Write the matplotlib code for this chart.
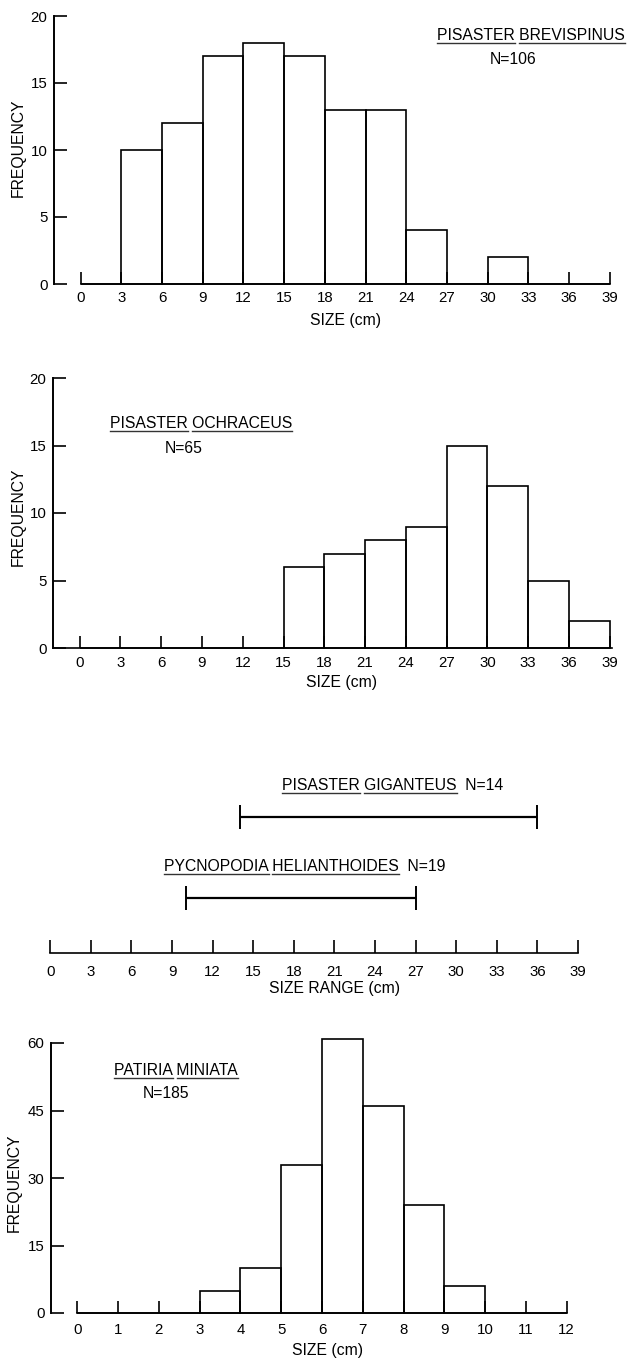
import numpy as np
import matplotlib.pyplot as plt
from matplotlib.lines import Line2D
from matplotlib.transforms import IdentityTransform

plt.rcParams['font.family'] = ['Liberation Sans', 'DejaVu Sans']
plt.rcParams['font.size'] = 11

W, H = 631, 1359
FS = 11.3      # label text
TFS = 10.8     # tick labels

# size classes (cm) and counts
size_edges = [0, 3, 6, 9, 12, 15, 18, 21, 24, 27, 30, 33, 36, 39]
brevispinus_counts = [0, 10, 12, 17, 18, 17, 13, 13, 4, 0, 2, 0, 0]
ochraceus_counts = [0, 0, 0, 0, 0, 6, 7, 8, 9, 15, 12, 5, 2]

range_names = [['PYCNOPODIA', 'HELIANTHOIDES'], ['PISASTER', 'GIGANTEUS']]
range_n = [19, 14]
range_lo = [10, 14]
range_hi = [27, 36]

patiria_edges = [0, 1, 2, 3, 4, 5, 6, 7, 8, 9, 10, 11, 12]
patiria_counts = [0, 0, 0, 5, 10, 33, 61, 46, 24, 6, 0, 0]

fig = plt.figure(figsize=(W / 100, H / 100), dpi=100)
ident = IdentityTransform()


def axes_px(left, right, top, bottom):
    return fig.add_axes([left / W, 1 - bottom / H, (right - left) / W, (bottom - top) / H])


def hist_panel(ax, edges, counts, xlim, ylim, yticks, xpad, xbounds):
    widths = np.diff(edges)
    ax.bar(edges[:-1], counts, width=widths, align='edge', fill=False,
           edgecolor='black', linewidth=1.2, clip_on=False)
    ax.set_xlim(*xlim)
    ax.set_ylim(*ylim)
    ax.set_xticks(edges)
    ax.set_yticks(yticks)
    for s in ['top', 'right']:
        ax.spines[s].set_visible(False)
    ax.spines['left'].set_linewidth(1.4)
    ax.spines['bottom'].set_linewidth(1.2)
    ax.spines['left'].set_bounds(ylim[0], ylim[1])
    if xbounds is not None:
        ax.spines['bottom'].set_bounds(*xbounds)
    ax.tick_params(axis='x', direction='in', length=9, width=1.2, pad=xpad, labelsize=TFS)
    ax.tick_params(axis='y', direction='in', length=9, width=1.2, pad=4.3, labelsize=TFS)


def label(x, y, s, **kw):
    fig.text(x / W, 1 - y / H, s, ha='center', va='center', fontsize=FS, **kw)


def underlined(x, y, words, extra='', ha='center'):
    # x, y in image pixels (y from top), y is the text baseline
    full = ' '.join(words) + extra
    t = fig.text(x / W, 1 - y / H, full, ha=ha, va='baseline', fontsize=FS)
    fig.canvas.draw()
    r = fig.canvas.get_renderer()
    bb = t.get_window_extent(r)
    for i, w in enumerate(words):
        pre = ' '.join(words[:i]) + (' ' if i else '')
        x0 = 0
        if pre:
            tmp = fig.text(0, 0, pre, fontsize=FS)
            x0 = tmp.get_window_extent(r).width
            tmp.remove()
        tmp = fig.text(0, 0, pre + w, fontsize=FS)
        x1 = tmp.get_window_extent(r).width
        tmp.remove()
        yy = H - y - 3
        fig.add_artist(Line2D([bb.x0 + x0, bb.x0 + x1], [yy, yy], transform=ident,
                              color='#333333', lw=1.0))


# panel 1: Pisaster brevispinus
ax1 = axes_px(53.5, 612.4, 16, 284)
hist_panel(ax1, size_edges, brevispinus_counts, (-2, 39.2), (0, 20), [0, 5, 10, 15, 20], 5, (0, 39))
label(18, 148, 'FREQUENCY', rotation=90)
label(346, 320, 'SIZE (cm)')
underlined(531, 40, ['PISASTER', 'BREVISPINUS'])
fig.text(513 / W, 1 - 64 / H, 'N=106', ha='center', va='baseline', fontsize=FS)

# panel 2: Pisaster ochraceus
ax2 = axes_px(52.5, 612.4, 378, 648)
hist_panel(ax2, size_edges, ochraceus_counts, (-2, 39.2), (0, 20), [0, 5, 10, 15, 20], 5.5, None)
label(18, 517, 'FREQUENCY', rotation=90)
label(342, 683, 'SIZE (cm)')
underlined(201, 428, ['PISASTER', 'OCHRACEUS'])
fig.text(184 / W, 1 - 453 / H, 'N=65', ha='center', va='baseline', fontsize=FS)

# panel 3: size ranges
ax3 = axes_px(43.5, 584.8, 760.2, 953)
rows = np.arange(len(range_lo))
for r, lo, hi in zip(rows, range_lo, range_hi):
    ax3.plot([lo, hi], [r, r], color='black', lw=1.6, marker='|', ms=17, mew=1.4,
             solid_capstyle='butt')
ax3.set_xlim(-0.5, 39.5)
ax3.set_ylim(-0.68, 1.7)
ax3.set_yticks([])
ax3.set_xticks(size_edges)
for s in ['top', 'right', 'left']:
    ax3.spines[s].set_visible(False)
ax3.spines['bottom'].set_bounds(0, 39)
ax3.spines['bottom'].set_linewidth(1.2)
ax3.tick_params(axis='x', direction='in', length=9.5, width=1.2, pad=9, labelsize=TFS)
label(334, 989, 'SIZE RANGE (cm)')
for r, lo, hi, names, n in zip(rows, range_lo, range_hi, range_names, range_n):
    dx, dy = ax3.transData.transform(((lo + hi) / 2 + 0.3, r + 0.395))
    underlined(dx, H - dy + 5, names, extra='  N=%d' % n)

# panel 4: Patiria miniata
ax4 = axes_px(50.5, 568.6, 1043, 1313)
hist_panel(ax4, patiria_edges, patiria_counts, (-0.66, 12.05), (0, 60), [0, 15, 30, 45, 60], 7, (0, 12))
label(14, 1183, 'FREQUENCY', rotation=90)
label(327, 1351, 'SIZE (cm)')
underlined(176, 1075, ['PATIRIA', 'MINIATA'])
fig.text(166 / W, 1 - 1098 / H, 'N=185', ha='center', va='baseline', fontsize=FS)

fig.savefig('out.png', dpi=100)
